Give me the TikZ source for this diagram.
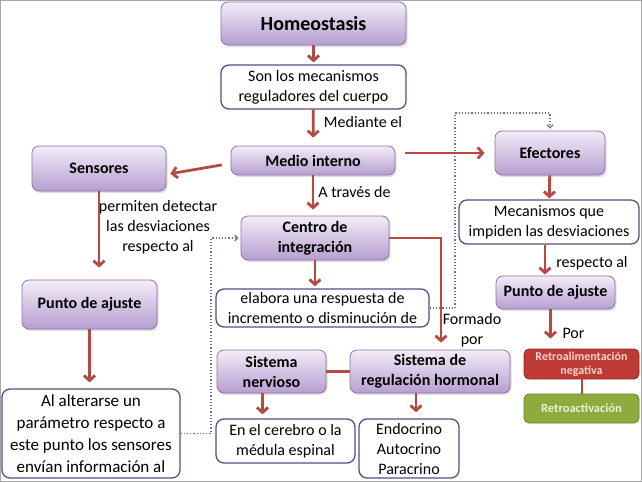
\documentclass[tikz,border=0pt]{standalone}
\usepackage{fontspec}
\setmainfont{Carlito}
\usetikzlibrary{arrows.meta,shadows}
\definecolor{lavtop}{RGB}{243,236,248}
\definecolor{lavbot}{RGB}{182,158,208}
\definecolor{lavline}{RGB}{140,115,170}
\definecolor{inkline}{RGB}{96,74,123}
\definecolor{arrowred}{RGB}{183,72,66}
\definecolor{dotline}{RGB}{128,100,150}
\definecolor{retrored}{RGB}{190,58,52}
\definecolor{retrotext}{RGB}{250,212,206}
\definecolor{retrogreen}{RGB}{142,172,62}
\definecolor{greentext}{RGB}{232,243,216}
\newcommand{\fs}[2]{\fontsize{#1}{#2}\selectfont}

\begin{document}
\begin{tikzpicture}[x=1pt, y=-1pt,
    dims/.style 2 args={minimum width=#1pt, minimum height=#2pt},
    lilac/.style={draw=lavline, line width=0.8pt, rounded corners=7pt, top color=lavtop, bottom color=lavbot, align=center, font=\fs{16}{20}\bfseries, inner sep=2pt, drop shadow={opacity=0.25, shadow xshift=1.5pt, shadow yshift=-2pt}},
    whitebox/.style={draw=inkline, line width=1.3pt, rounded corners=8pt, fill=white, align=center, font=\fs{16}{20}, inner sep=2pt},
    redbox/.style={draw=retrored!75!black, line width=0.8pt, fill=retrored, rounded corners=5pt, text=retrotext, align=center, font=\fs{12}{14}\bfseries, inner sep=1pt},
    greenbox/.style={draw=retrogreen!75!black, line width=0.8pt, fill=retrogreen, rounded corners=5pt, text=greentext, align=center, font=\fs{12.5}{15}\bfseries, inner sep=1pt},
    redline/.style={draw=arrowred, line width=2.8pt},
    redlink/.style={redline, -{Straight Barb[length=5pt,width=11pt]}},
    dotlink/.style={draw=dotline, line width=1.2pt, dotted, -{Straight Barb[length=3pt,width=6pt]}},
    lbl/.style={font=\fs{16}{20}, align=center, inner sep=0pt}]

    \useasboundingbox (0,0) rectangle (642,482);
    \fill[white] (0,0) rectangle (642,482);
    \draw[gray!70, line width=1pt] (0.5,0.5) rectangle (641.5,481.5);

    \node[lilac, font=\fs{20}{24}\bfseries, dims={185}{43}] (homeo) at (313.5,23.5) {Homeostasis};
    \node[whitebox, dims={185}{44}] (son) at (313.5,87) {Son los mecanismos\\reguladores del cuerpo};
    \node[lilac, dims={164}{29}] (medio) at (313,160.5) {Medio interno};
    \node[lilac, dims={134}{45}] (sensores) at (99,168.5) {Sensores};
    \node[lilac, dims={110}{44}] (efectores) at (550,153) {Efectores};
    \node[lilac, dims={148}{44}] (centro) at (315,238) {Centro de\\integración};
    \node[whitebox, dims={213}{38}] (elabora) at (322.5,308) {elabora una respuesta\ de\\incremento o disminución de};
    \node[lilac, dims={135}{49}] (punto) at (89.5,304.5) {Punto de ajuste};
    \node[whitebox, dims={180}{44}] (mecanismos) at (549,222) {Mecanismos que\\impiden las desviaciones};
    \node[lilac, dims={119}{33}] (puntob) at (555.5,292.5) {Punto de ajuste};
    \node[lilac, dims={109}{43}] (nervioso) at (271.5,371.5) {Sistema\\nervioso};
    \node[lilac, dims={160}{43}] (hormonal) at (430,371.5) {Sistema de\\regulación hormonal};
    \node[whitebox, dims={139}{44}] (cerebro) at (285.5,441) {En el cerebro o la\\médula espinal};
    \node[whitebox, dims={100}{59}] (glandulas) at (409,448.5) {Endocrino\\Autocrino\\Paracrino};
    \node[whitebox, font=\fs{17}{22}, dims={178}{89}] (alterar) at (91,433.5) {Al alterarse un\\parámetro respecto a\\este punto los sensores\\envían información al};
    \node[redbox, dims={115}{30}] (retro) at (581.5,364) {Retroalimentación\\negativa};
    \node[greenbox, dims={115}{29}] (retroact) at (581.5,408.5) {Retroactivación};

    \node[lbl] (mediante) at (363,122) {Mediante el};
    \node[lbl] (atraves) at (354.5,192) {A través de};
    \node[lbl] (permiten) at (158,227) {permiten detectar\\las desviaciones\\respecto al};
    \node[lbl] (formado) at (472,330) {Formado\\por};
    \node[lbl] (respecto) at (592,263) {respecto al};
    \node[lbl] (por) at (573.5,333) {Por};

    \draw[redlink, shorten >=2pt] (homeo) -- (son);
    \draw[redlink, shorten >=8pt] (son) -- (medio);
    \draw[redlink, shorten <=9pt, shorten >=4pt] (medio.182) -- (sensores.-5);
    \draw[redlink, shorten <=10pt, shorten >=10pt] (medio.east |- efectores.west) -- (efectores.west);
    \draw[redlink, shorten >=6pt] (medio.south) -- (medio.south |- centro.north);
    \draw[redlink, shorten >=12pt] (sensores.south) -- (sensores.south |- punto.north);
    \draw[redlink, shorten >=2pt] (centro.south) -- (centro.south |- elabora.north);
    \draw[redlink, shorten >=7pt] (centro.east) -| ([xshift=11pt]hormonal.north);
    \draw[redlink, shorten >=6pt] (punto.south) -- (punto.south |- alterar.north);
    \draw[redline] (nervioso) -- (hormonal);
    \draw[redlink, shorten >=4pt] ([xshift=-9pt]nervioso.south) -- ([xshift=-9pt]nervioso.south |- cerebro.north);
    \draw[redlink, shorten >=6pt] ([xshift=-14pt]hormonal.south) -- ([xshift=-14pt]hormonal.south |- glandulas.north);
    \draw[redlink, shorten >=1pt] (efectores) -- (mecanismos);
    \draw[redlink, shorten >=1pt] ([xshift=-4pt]mecanismos.south) -- ([xshift=-4pt]mecanismos.south |- puntob.north);
    \draw[redlink, shorten >=10pt] ([xshift=-5pt]puntob.south) -- ([xshift=-5pt]puntob.south |- retro.north);
    \draw[redline, line width=2pt] (retro) -- (retroact);

    \coordinate (giro) at (455,113);
    \coordinate (codo) at (211,433.5);
    \draw[dotlink, shorten >=2pt] (elabora.east) -| (giro) -| (efectores.north);
    \draw[dotlink, shorten >=2pt] (alterar.east) -- (codo) |- (centro.west);

\end{tikzpicture}
\end{document}
